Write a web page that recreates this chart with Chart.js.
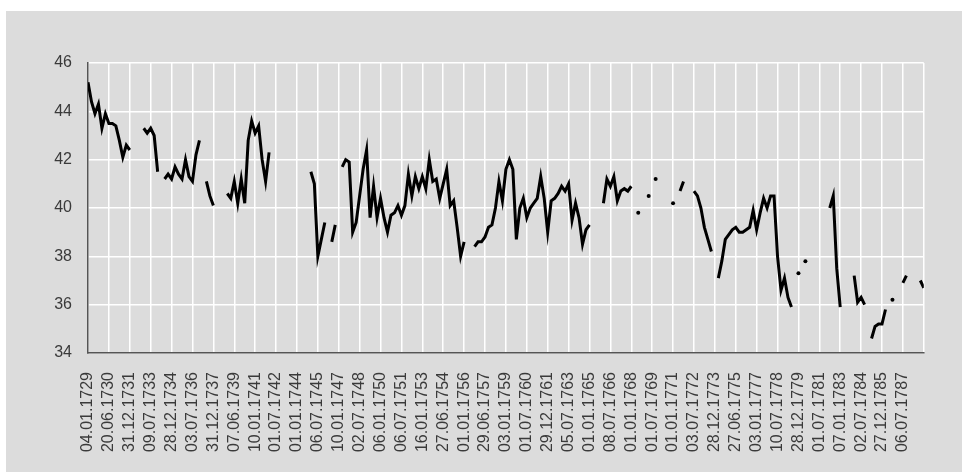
<!DOCTYPE html>
<html>
<head>
<meta charset="utf-8">
<script src="https://cdn.jsdelivr.net/npm/chart.js@4"></script>
<style>
  html, body { margin: 0; padding: 0; background: #fff; }
  #box { position: absolute; left: 6px; top: 11px; width: 956px; height: 461px; background: #dcdcdc; }
  canvas { display: block; }
</style>
</head>
<body>
<div id="box"><canvas id="chart" width="956" height="461"></canvas></div>
<script>
// dates shown on the x axis, one per grid column
const tickLabels = [
  "04.01.1729", "20.06.1730", "31.12.1731", "09.07.1733", "28.12.1734",
  "03.07.1736", "31.12.1737", "07.06.1739", "10.01.1741", "01.07.1742",
  "01.01.1744", "06.07.1745", "10.01.1747", "02.07.1748", "06.01.1750",
  "06.07.1751", "16.01.1753", "27.06.1754", "01.01.1756", "29.06.1757",
  "03.01.1759", "01.07.1760", "29.12.1761", "05.07.1763", "01.01.1765",
  "08.07.1766", "01.01.1768", "01.07.1769", "01.01.1771", "03.07.1772",
  "28.12.1773", "27.06.1775", "03.01.1777", "10.07.1778", "28.12.1779",
  "01.07.1781", "07.01.1783", "02.07.1784", "27.12.1785", "06.07.1787"
];
const pointsPerTick = 6;

// series, 6 observations per labelled interval, null = no data
const values = [
  45.2, 44.4, 43.9, 44.3, 43.3, 43.9,
  43.5, 43.5, 43.4, 42.8, 42.1, 42.6,
  42.4, null, null, null, 43.3, 43.1,
  43.3, 43.0, 41.5, null, 41.2, 41.4,
  41.2, 41.7, 41.4, 41.2, 42.0, 41.3,
  41.1, 42.2, 42.8, null, 41.1, 40.5,
  40.1, null, null, null, 40.6, 40.4,
  41.1, 40.2, 41.2, 40.2, 42.8, 43.6,
  43.1, 43.4, 42.0, 41.1, 42.3, null,
  null, null, null, null, null, null,
  null, null, null, null, 41.5, 41.0,
  38.0, 38.7, 39.4, null, 38.6, 39.3,
  null, 41.7, 42.0, 41.9, 39.0, 39.4,
  40.5, 41.6, 42.4, 39.6, 40.9, 39.6,
  40.4, 39.6, 39.0, 39.7, 39.8, 40.1,
  39.7, 40.1, 41.4, 40.5, 41.3, 40.8,
  41.3, 40.8, 42.0, 41.1, 41.2, 40.4,
  41.0, 41.6, 40.1, 40.3, 39.2, 38.0,
  38.6, null, null, 38.4, 38.6, 38.6,
  38.8, 39.2, 39.3, 40.0, 41.1, 40.3,
  41.6, 42.0, 41.6, 38.7, 40.0, 40.4,
  39.6, 40.0, 40.2, 40.4, 41.3, 40.4,
  39.0, 40.3, 40.4, 40.6, 40.9, 40.7,
  41.0, 39.5, 40.2, 39.6, 38.5, 39.1,
  39.3, null, null, null, 40.2, 41.2,
  40.9, 41.3, 40.3, 40.7, 40.8, 40.7,
  40.9, null, 39.8, null, null, 40.5,
  null, 41.2, null, null, null, null,
  40.2, null, 40.7, 41.1, null, null,
  40.7, 40.5, 40.0, 39.2, 38.7, 38.2,
  null, 37.1, 37.8, 38.7, 38.9, 39.1,
  39.2, 39.0, 39.0, 39.1, 39.2, 39.9,
  39.1, 39.8, 40.4, 40.0, 40.5, 40.5,
  38.0, 36.6, 37.1, 36.3, 35.9, null,
  37.3, null, 37.8, null, null, null,
  null, null, null, 40.0, 40.5, 37.5,
  35.9, null, null, null, 37.2, 36.1,
  36.3, 36.0, null, 34.6, 35.1, 35.2,
  35.2, 35.8, null, 36.2, null, null,
  36.9, 37.2, null, null, null, 37.0,
  36.7
];

const yMin = 34, yMax = 46, yStep = 2;

const points = values.map((v, i) => ({ x: i, y: v }));
const isolated = i => values[i] !== null && values[i - 1] == null && values[i + 1] == null;

const font = { family: "'Liberation Sans', Arial, Helvetica, sans-serif", size: 16 };

new Chart(document.getElementById("chart").getContext("2d"), {
  type: "line",
  data: {
    datasets: [{
      data: points,
      borderColor: "#000",
      backgroundColor: "#000",
      borderWidth: 3,
      spanGaps: false,
      tension: 0,
      pointRadius: ctx => isolated(ctx.dataIndex) ? 2 : 0,
      pointBorderWidth: 0,
      pointHoverRadius: 0
    }]
  },
  options: {
    responsive: false,
    animation: false,
    devicePixelRatio: 1,
    layout: { padding: { left: 0, top: 52, right: 32, bottom: 0 } },
    plugins: { legend: { display: false }, tooltip: { enabled: false } },
    scales: {
      x: {
        type: "linear",
        min: 0,
        max: tickLabels.length * pointsPerTick,
        afterFit: s => { s.height = 119; },
        grid: { color: "#fff", lineWidth: 1.5, drawTicks: false },
        border: { display: true, color: "#555", width: 1.5 },
        ticks: {
          stepSize: pointsPerTick,
          autoSkip: false,
          minRotation: 90,
          maxRotation: 90,
          padding: 19,
          color: "#3a3a3a",
          font: font,
          callback: v => {
            const k = v / pointsPerTick;
            return Number.isInteger(k) && k < tickLabels.length ? tickLabels[k] : "";
          }
        }
      },
      y: {
        min: yMin,
        max: yMax,
        afterFit: s => { s.width = 82; },
        grid: { color: "#fff", lineWidth: 1.5, drawTicks: false },
        border: { display: true, color: "#555", width: 1.5 },
        ticks: { stepSize: yStep, padding: 16, color: "#3a3a3a", font: font }
      }
    }
  }
});
</script>
</body>
</html>
